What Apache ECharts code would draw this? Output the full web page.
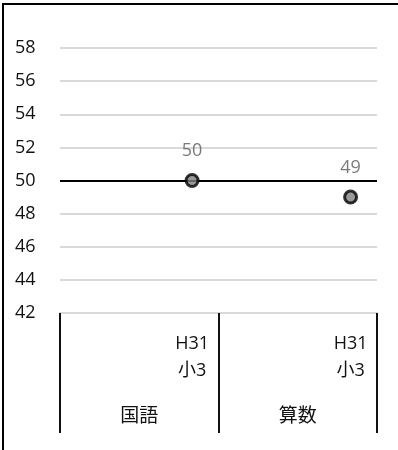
<!DOCTYPE html>
<html><head><meta charset="utf-8">
<script src="https://cdn.jsdelivr.net/npm/echarts@6/dist/echarts.min.js"></script>
<style>html,body{margin:0;padding:0;background:#fff}#c{width:398px;height:450px}</style>
</head><body><div id="c"></div>
<script>
const subCategories = ['', '', 'H31\n小3', '', '', 'H31\n小3'];
const groups = ['国語', '算数'];
const scores = [null, null, 50, null, null, 49];
const baseline = 50;
const yMin = 42, yMax = 58, yStep = 2;

const FONT = '"Open Sans", "Noto Sans CJK JP", sans-serif';
const chart = echarts.init(document.getElementById('c'));
chart.setOption({
  animation: false,
  textStyle: { fontFamily: FONT },
  grid: { left: 60, right: 21, top: 48, bottom: 137 },
  xAxis: [{
    type: 'category', data: subCategories, position: 'bottom',
    axisLine: { show: true, lineStyle: { color: '#d9d9d9', width: 2 } },
    axisTick: { show: false },
    axisLabel: { interval: 0, color: '#111', fontSize: 18, lineHeight: 27, margin: 17, fontFamily: FONT }
  }, {
    type: 'category', data: groups, position: 'bottom',
    axisLine: { show: false },
    axisTick: { show: true, length: 120, lineStyle: { color: '#111', width: 2 } },
    axisLabel: { interval: 0, color: '#111', fontSize: 19, margin: 94, fontFamily: FONT }
  }],
  yAxis: {
    type: 'value', min: yMin, max: yMax, interval: yStep,
    axisLine: { show: false }, axisTick: { show: false },
    axisLabel: { color: '#111', fontSize: 18, align: 'left', margin: 45, fontFamily: FONT },
    splitLine: { lineStyle: { color: '#d9d9d9', width: 2 } }
  },
  series: [{
    type: 'scatter', xAxisIndex: 0, data: scores,
    symbol: 'circle', symbolSize: 12,
    itemStyle: { color: '#7f7f7f', borderColor: '#000', borderWidth: 3 },
    label: { show: true, position: 'top', distance: 13, color: '#595959', fontSize: 18, fontFamily: FONT },
    markLine: {
      silent: true, symbol: 'none', label: { show: false },
      lineStyle: { color: '#000', width: 2, type: 'solid' },
      data: [{ yAxis: baseline }]
    },
    z: 5
  }],
  graphic: [{
    type: 'polyline', shape: { points: [[3, 450], [3, 4], [398, 4]] },
    style: { stroke: '#000', lineWidth: 2, fill: null }
  }]
});
</script></body></html>
